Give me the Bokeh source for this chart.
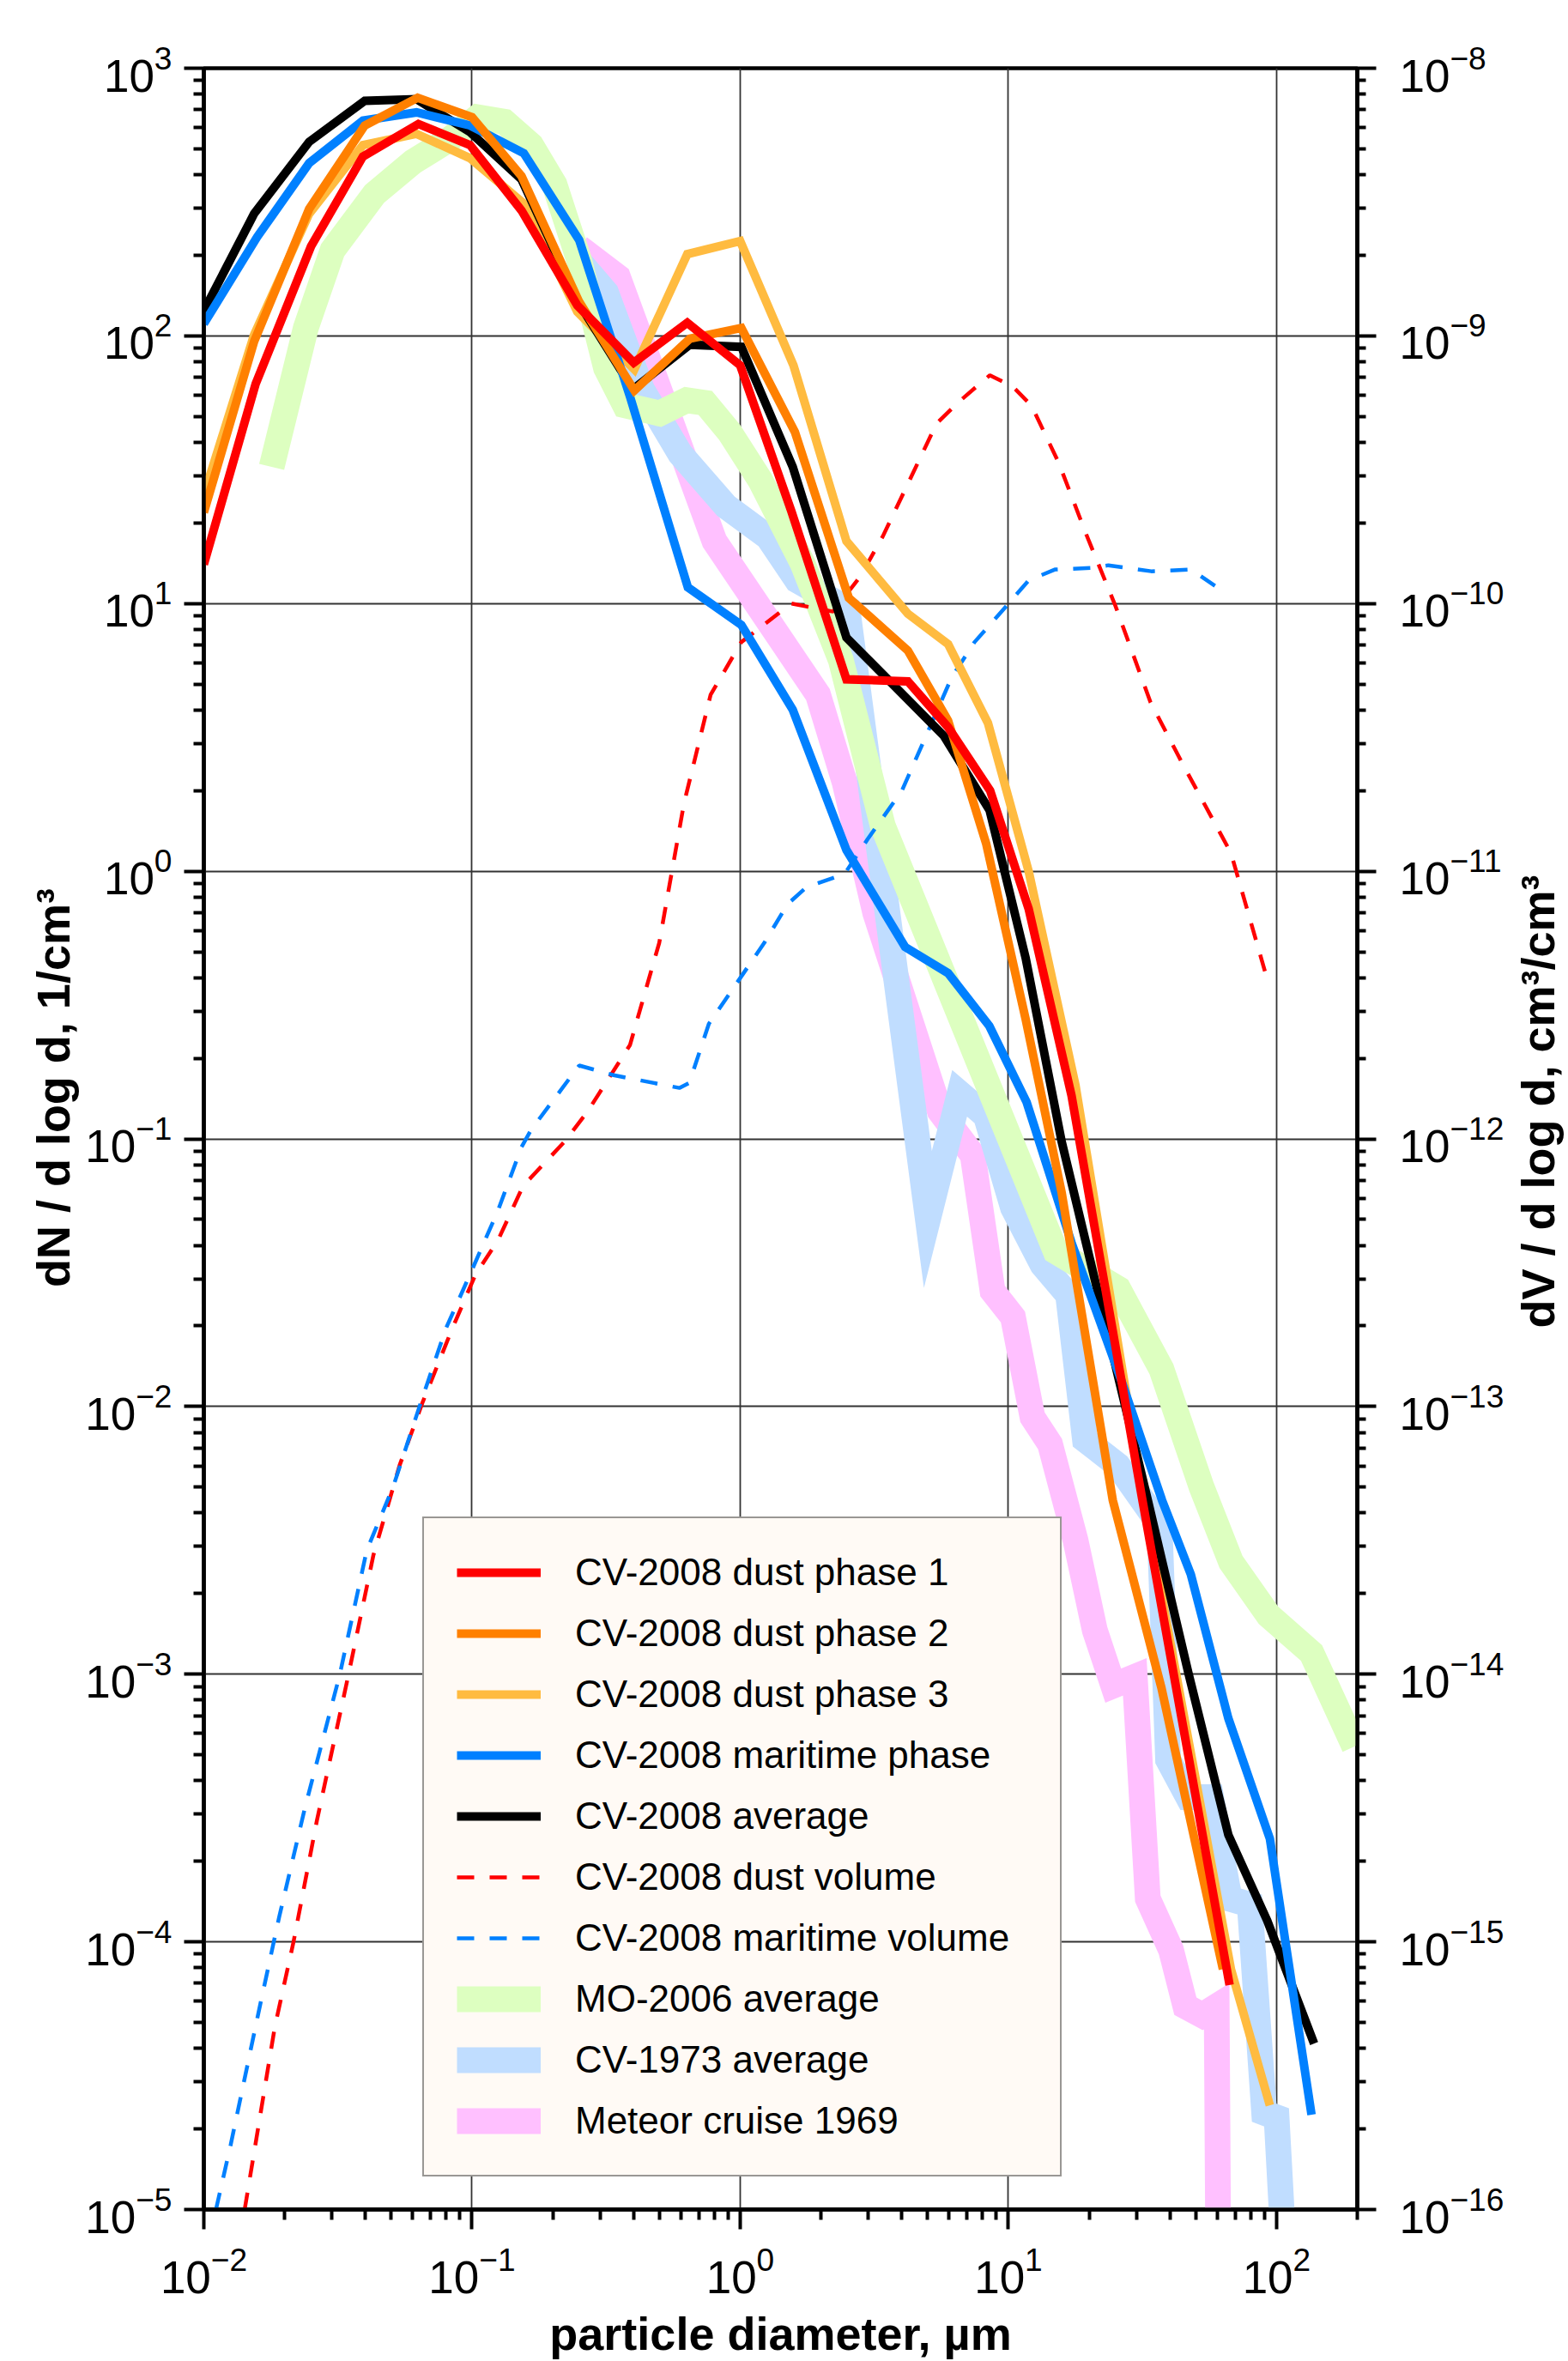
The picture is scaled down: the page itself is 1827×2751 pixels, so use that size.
import math
from bokeh.plotting import figure
from bokeh.layouts import row
from bokeh.models import Range1d, LogAxis, LogScale, FixedTicker, Legend, LegendItem
from bokeh.core.properties import value
from bokeh.embed import file_html
from bokeh.resources import INLINE

# ---------------- data (diameter in µm, dN/dlogd in 1/cm³, dV/dlogd in cm³/cm³) -------------
d_phase1 = [0.01, 0.0156, 0.0251, 0.0392, 0.0631, 0.0984, 0.153, 0.247, 0.401, 0.635, 1.0, 1.55, 2.49,
            4.22, 5.96, 8.55, 11.9, 17.2, 31.6, 66.8]
n_phase1 = [14.0, 66.1, 216, 468, 619, 516, 294, 130, 79.4, 112, 77.6, 22.2, 5.21,
            5.12, 3.45, 2.0, 0.724, 0.145, 0.00447, 6.9e-5]

d_phase2 = [0.01, 0.0154, 0.0247, 0.0398, 0.0627, 0.1, 0.153, 0.251, 0.403, 0.649, 1.01, 1.6, 2.54,
            4.22, 5.96, 8.26, 11.6, 15.8, 24.5, 37.2, 63.1]
n_phase2 = [21.9, 95.3, 298, 611, 776, 656, 395, 134, 62.5, 97.7, 107, 43.7, 10.5,
            6.67, 3.65, 1.27, 0.28, 0.063, 0.00447, 8.9e-4, 7.9e-5]

d_phase3 = [0.01, 0.0154, 0.0247, 0.0392, 0.0621, 0.0984, 0.158, 0.247, 0.403, 0.635, 1.0, 1.58, 2.49,
            4.22, 5.96, 8.39, 11.9, 17.8, 31.6, 67.6, 94.4]
n_phase3 = [25.4, 101, 286, 516, 569, 461, 309, 123, 75.0, 202, 226, 77.6, 17.1,
            9.16, 7.05, 3.58, 1.0, 0.158, 0.0048, 7.9e-5, 2.45e-5]

d_maritime = [0.01, 0.0158, 0.0247, 0.0392, 0.0621, 0.0984, 0.156, 0.251, 0.389, 0.638, 1.01, 1.57,
              2.49, 4.12, 5.96, 8.49, 11.7, 17.2, 26.3, 37.4, 47.9, 66.1, 94.4, 135]
n_maritime = [111, 234, 442, 637, 684, 611, 481, 228, 58.9, 11.5, 8.32, 4.01,
              1.20, 0.521, 0.416, 0.264, 0.137, 0.0409, 0.0126, 0.00447, 0.00236, 6.84e-4, 2.43e-4, 2.26e-5]

d_average = [0.01, 0.0154, 0.0247, 0.0398, 0.0621, 0.0984, 0.153, 0.251, 0.398, 0.649, 1.01, 1.57,
             2.49, 5.75, 8.51, 11.6, 15.8, 33.1, 46.8, 66.1, 92.3, 138]
n_average = [124, 286, 531, 755, 766, 577, 384, 132, 63.1, 92.7, 91.0, 32.4,
             7.46, 3.2, 1.69, 0.474, 0.0977, 0.00447, 1.02e-3, 2.51e-4, 1.2e-4, 4.17e-5]

d_dust_vol = [0.0142, 0.0184, 0.0216, 0.0264, 0.0346, 0.0429, 0.0537, 0.0655, 0.0843, 0.103, 0.125,
              0.155, 0.221, 0.269, 0.388, 0.499, 0.617, 0.776, 1.01, 1.55, 2.22, 2.8, 3.4, 5.4, 6.56,
              8.53, 10.4, 12.2, 15.4, 19.4, 25.1, 33.9, 44.7, 67.6, 93.3]
v_dust_vol = [1e-16, 4.82e-16, 1e-15, 2.84e-15, 9.93e-15, 2.79e-14, 6.03e-14, 1.04e-13, 1.95e-13,
              3.11e-13, 4.18e-13, 6.67e-13, 9.75e-13, 1.26e-12, 2.24e-12, 5.4e-12, 1.79e-11, 4.57e-11,
              7.18e-11, 1.0e-10, 9.33e-11, 1.26e-10, 1.78e-10, 4.71e-10, 5.69e-10, 7.13e-10, 6.46e-10,
              5.48e-10, 3.36e-10, 1.84e-10, 9.77e-11, 4.27e-11, 2.51e-11, 1.17e-11, 3.8e-12]

d_mar_vol = [0.0111, 0.0126, 0.0161, 0.0191, 0.0239, 0.0321, 0.0405, 0.0508, 0.0637, 0.0798, 0.1,
             0.125, 0.153, 0.166, 0.251, 0.337, 0.593, 0.646, 0.764, 1.23, 1.5, 1.77, 2.45, 2.99,
             4.01, 5.05, 6.15, 7.48, 10.1, 11.9, 14.9, 20.6, 23.6, 34.1, 48.1, 61.5]
v_mar_vol = [1e-16, 1.75e-16, 5.62e-16, 1.24e-15, 3.21e-15, 9.93e-15, 2.9e-14, 5.01e-14, 1e-13,
             1.95e-13, 3.24e-13, 5.4e-13, 9.33e-13, 1.08e-12, 1.88e-12, 1.73e-12, 1.55e-12, 1.62e-12,
             2.69e-12, 5.4e-12, 7.52e-12, 8.73e-12, 9.77e-12, 1.32e-11, 2.0e-11, 3.38e-11, 5.31e-11,
             7.18e-11, 1.01e-10, 1.22e-10, 1.34e-10, 1.36e-10, 1.39e-10, 1.32e-10, 1.34e-10, 1.13e-10]

d_mo2006 = [0.0179, 0.024, 0.0302, 0.0433, 0.0603, 0.0832, 0.105, 0.132, 0.166, 0.203, 0.251, 0.316,
            0.372, 0.501, 0.631, 0.741, 0.912, 1.19, 1.71, 2.37, 3.4, 15.0, 25.7, 37.2, 52.5, 67.6,
            93.3, 135, 195]
n_mo2006 = [32.4, 107, 209, 339, 447, 546, 656, 631, 516, 368, 191, 75.9,
            55.0, 51.3, 57.5, 56.2, 43.7, 28.8, 14.1, 6.17, 1.48, 0.038, 0.0275, 0.0138, 0.00501, 0.00263,
            0.00166, 0.0012, 5.37e-4]

d_cv1973 = [0.251, 0.316, 0.43, 0.597, 0.885, 1.27, 1.63, 2.51, 5.01, 6.58, 8.24, 10.4, 13.4, 16.7,
            19.3, 25.6, 36.6, 39.4, 46.8, 57.0, 66.8, 79.4, 89.9, 100, 105]
n_cv1973 = [190, 145, 63.1, 36.3, 23.1, 17.7, 12.2, 9.55, 0.05, 0.148, 0.122, 0.0553, 0.0339, 0.0261,
            0.00752, 0.00603, 0.00363, 4.79e-4, 3.47e-4, 3.47e-4, 1.45e-4, 1.38e-4, 2.3e-5, 2.21e-5, 9e-6]

d_meteor = [0.251, 0.35, 0.447, 0.802, 1.95, 2.45, 3.19, 5.55, 7.36, 8.73, 10.4, 12.3, 14.3, 17.8,
            21.0, 24.6, 29.6, 33.1, 40.4, 45.7, 52.8, 59.8, 60.5]
n_meteor = [214, 166, 85.1, 17.1, 4.57, 2.15, 0.697, 0.127, 0.0871, 0.027, 0.0216, 0.00912, 0.00724,
            0.00316, 0.00146, 9.06e-4, 9.77e-4, 1.45e-4, 9.33e-5, 5.75e-5, 5.32e-5, 5.75e-5, 9e-6]

labels = ["CV-2008 dust phase 1", "CV-2008 dust phase 2", "CV-2008 dust phase 3",
          "CV-2008 maritime phase", "CV-2008 average", "CV-2008 dust volume",
          "CV-2008 maritime volume", "MO-2006 average", "CV-1973 average", "Meteor cruise 1969"]

x_title = "particle diameter, µm"
y_title = ["dN / d log d, 1/cm³"]
y2_title = ["dV / d log d, cm³/cm³"]

# ---------------- layout sizes ----------------
FONT = "Liberation Sans"
FW, FH = 1344, 2497          # plotting frame size
FL, BT = 237, 79             # frame left / top on the page
W, H = 1827, 2751            # whole page
LSTRIP = 96                  # left strip (left-axis title)
RSTRIP = 72                  # right strip (right-axis title)
WM = W - LSTRIP - RSTRIP
BL = FL - LSTRIP

p = figure(width=WM, height=H, x_axis_type="log", y_axis_type="log",
           x_range=Range1d(0.01, 200), y_range=Range1d(1e-5, 1e3),
           output_backend="svg", toolbar_location=None,
           min_border_left=BL, min_border_right=WM - BL - FW,
           min_border_top=BT, min_border_bottom=H - BT - FH)
p.background_fill_color = "white"
p.border_fill_color = "white"
p.outline_line_color = "black"
p.outline_line_width = 4.5
p.outline_line_alpha = 1.0

p.extra_y_ranges = {"vol": Range1d(1e-16, 1e-8)}
p.extra_y_scales = {"vol": LogScale()}

def dec_ticks(e0, e1, vmax=None):
    major = [10.0 ** e for e in range(e0, e1 + 1)]
    minor = [k * 10.0 ** e for e in range(e0, e1 + 1) for k in range(2, 10)]
    if vmax is not None:
        minor = [m for m in minor if m <= vmax * 1.0001]
    return major, minor

xmaj, xmin = dec_ticks(-2, 2, 200)
ymaj, ymin = dec_ticks(-5, 3, 1e3)
vmaj, vmin = dec_ticks(-16, -8, 1e-8)

def style_axis(ax):
    ax.axis_line_width = 4.5
    ax.axis_line_color = "black"
    ax.major_tick_line_width = 4
    ax.minor_tick_line_width = 4
    ax.major_tick_line_color = "black"
    ax.minor_tick_line_color = "black"
    ax.major_tick_in = 0
    ax.major_tick_out = 23
    ax.minor_tick_in = 0
    ax.minor_tick_out = 12
    ax.major_label_text_font = FONT
    ax.major_label_text_font_size = "53px"
    ax.major_label_text_color = "black"
    ax.axis_label_text_font = FONT
    ax.axis_label_text_font_style = "bold"
    ax.axis_label_text_font_size = "54px"
    ax.axis_label_text_color = "black"

xa = p.xaxis[0]
xa.ticker = FixedTicker(ticks=xmaj, minor_ticks=xmin)
xa.axis_label = x_title
style_axis(xa)
xa.major_label_standoff = 20
xa.axis_label_standoff = 14

ya = p.yaxis[0]
ya.ticker = FixedTicker(ticks=ymaj, minor_ticks=ymin)
style_axis(ya)
ya.major_label_standoff = 14

ra = LogAxis(y_range_name="vol", ticker=FixedTicker(ticks=vmaj, minor_ticks=vmin))
style_axis(ra)
ra.major_tick_out = 22
ra.minor_tick_out = 10
ra.major_label_standoff = 27
p.add_layout(ra, "right")

p.xgrid.grid_line_color = "#333333"
p.xgrid.grid_line_width = 1.8
p.ygrid.grid_line_color = "#333333"
p.ygrid.grid_line_width = 1.8
p.xgrid.ticker = FixedTicker(ticks=xmaj)
p.ygrid.ticker = FixedTicker(ticks=ymaj)

# ---------------- series ----------------
THICK = 30
SOLID = 10
DASHW = 4.5

r_meteor = p.line(d_meteor, n_meteor, line_color="#FFC0FF", line_width=THICK, line_join="miter")
r_cv1973 = p.line(d_cv1973, n_cv1973, line_color="#C0DDFF", line_width=THICK, line_join="miter")
r_mo2006 = p.line(d_mo2006, n_mo2006, line_color="#DDFFC0", line_width=THICK, line_join="miter")

r_dvol = p.line(d_dust_vol, v_dust_vol, y_range_name="vol", line_color="#FF0000",
                line_width=DASHW, line_dash="20 18")
r_mvol = p.line(d_mar_vol, v_mar_vol, y_range_name="vol", line_color="#0080FF",
                line_width=DASHW, line_dash="20 18")

r_p3 = p.line(d_phase3, n_phase3, line_color="#FFBB40", line_width=SOLID, line_join="miter")
r_avg = p.line(d_average, n_average, line_color="#000000", line_width=SOLID, line_join="miter")
r_mar = p.line(d_maritime, n_maritime, line_color="#0080FF", line_width=SOLID, line_join="miter")
r_p2 = p.line(d_phase2, n_phase2, line_color="#FF8000", line_width=SOLID, line_join="miter")
r_p1 = p.line(d_phase1, n_phase1, line_color="#FF0000", line_width=SOLID, line_join="miter")

renderers = [r_p1, r_p2, r_p3, r_mar, r_avg, r_dvol, r_mvol, r_mo2006, r_cv1973, r_meteor]
items = [LegendItem(label=lab, renderers=[r]) for lab, r in zip(labels, renderers)]
legend = Legend(items=items, location=(255, 38), orientation="vertical")
legend.label_text_font = FONT
legend.label_text_font_size = "44px"
legend.label_text_color = "black"
legend.glyph_width = 98
legend.glyph_height = 50
legend.label_height = 50
legend.label_width = 527
legend.spacing = 21
legend.padding = 38
legend.label_standoff = 40
legend.margin = 0
legend.border_line_color = "#333333"
legend.border_line_width = 2
legend.background_fill_color = "#FFFAF5"
legend.background_fill_alpha = 1.0
p.add_layout(legend)

# ---------------- side strips with the vertical axis titles (read bottom-to-top) ----------------
def title_strip(width, xfrac, ycenter_page, txt):
    s = figure(width=width, height=H, x_range=Range1d(0, 1), y_range=Range1d(0, H),
               output_backend="svg", toolbar_location=None,
               x_axis_location=None, y_axis_location=None,
               min_border=0, min_border_left=0, min_border_right=0,
               min_border_top=0, min_border_bottom=0)
    s.outline_line_color = None
    s.background_fill_color = "white"
    s.border_fill_color = "white"
    s.xgrid.visible = False
    s.ygrid.visible = False
    s.text(x=[xfrac], y=[H - ycenter_page], text=txt, angle=math.pi / 2,
           text_align="center", text_baseline="middle",
           text_font=value(FONT), text_font_style="bold", text_font_size="54px",
           text_color="black")
    return s

left_strip = title_strip(LSTRIP, 61 / LSTRIP, 1310, y_title)
right_strip = title_strip(RSTRIP, 0.5, BT + FH / 2, y2_title)

layout = row(left_strip, p, right_strip, spacing=0)
open("out.html", "w").write(file_html(layout, INLINE))
